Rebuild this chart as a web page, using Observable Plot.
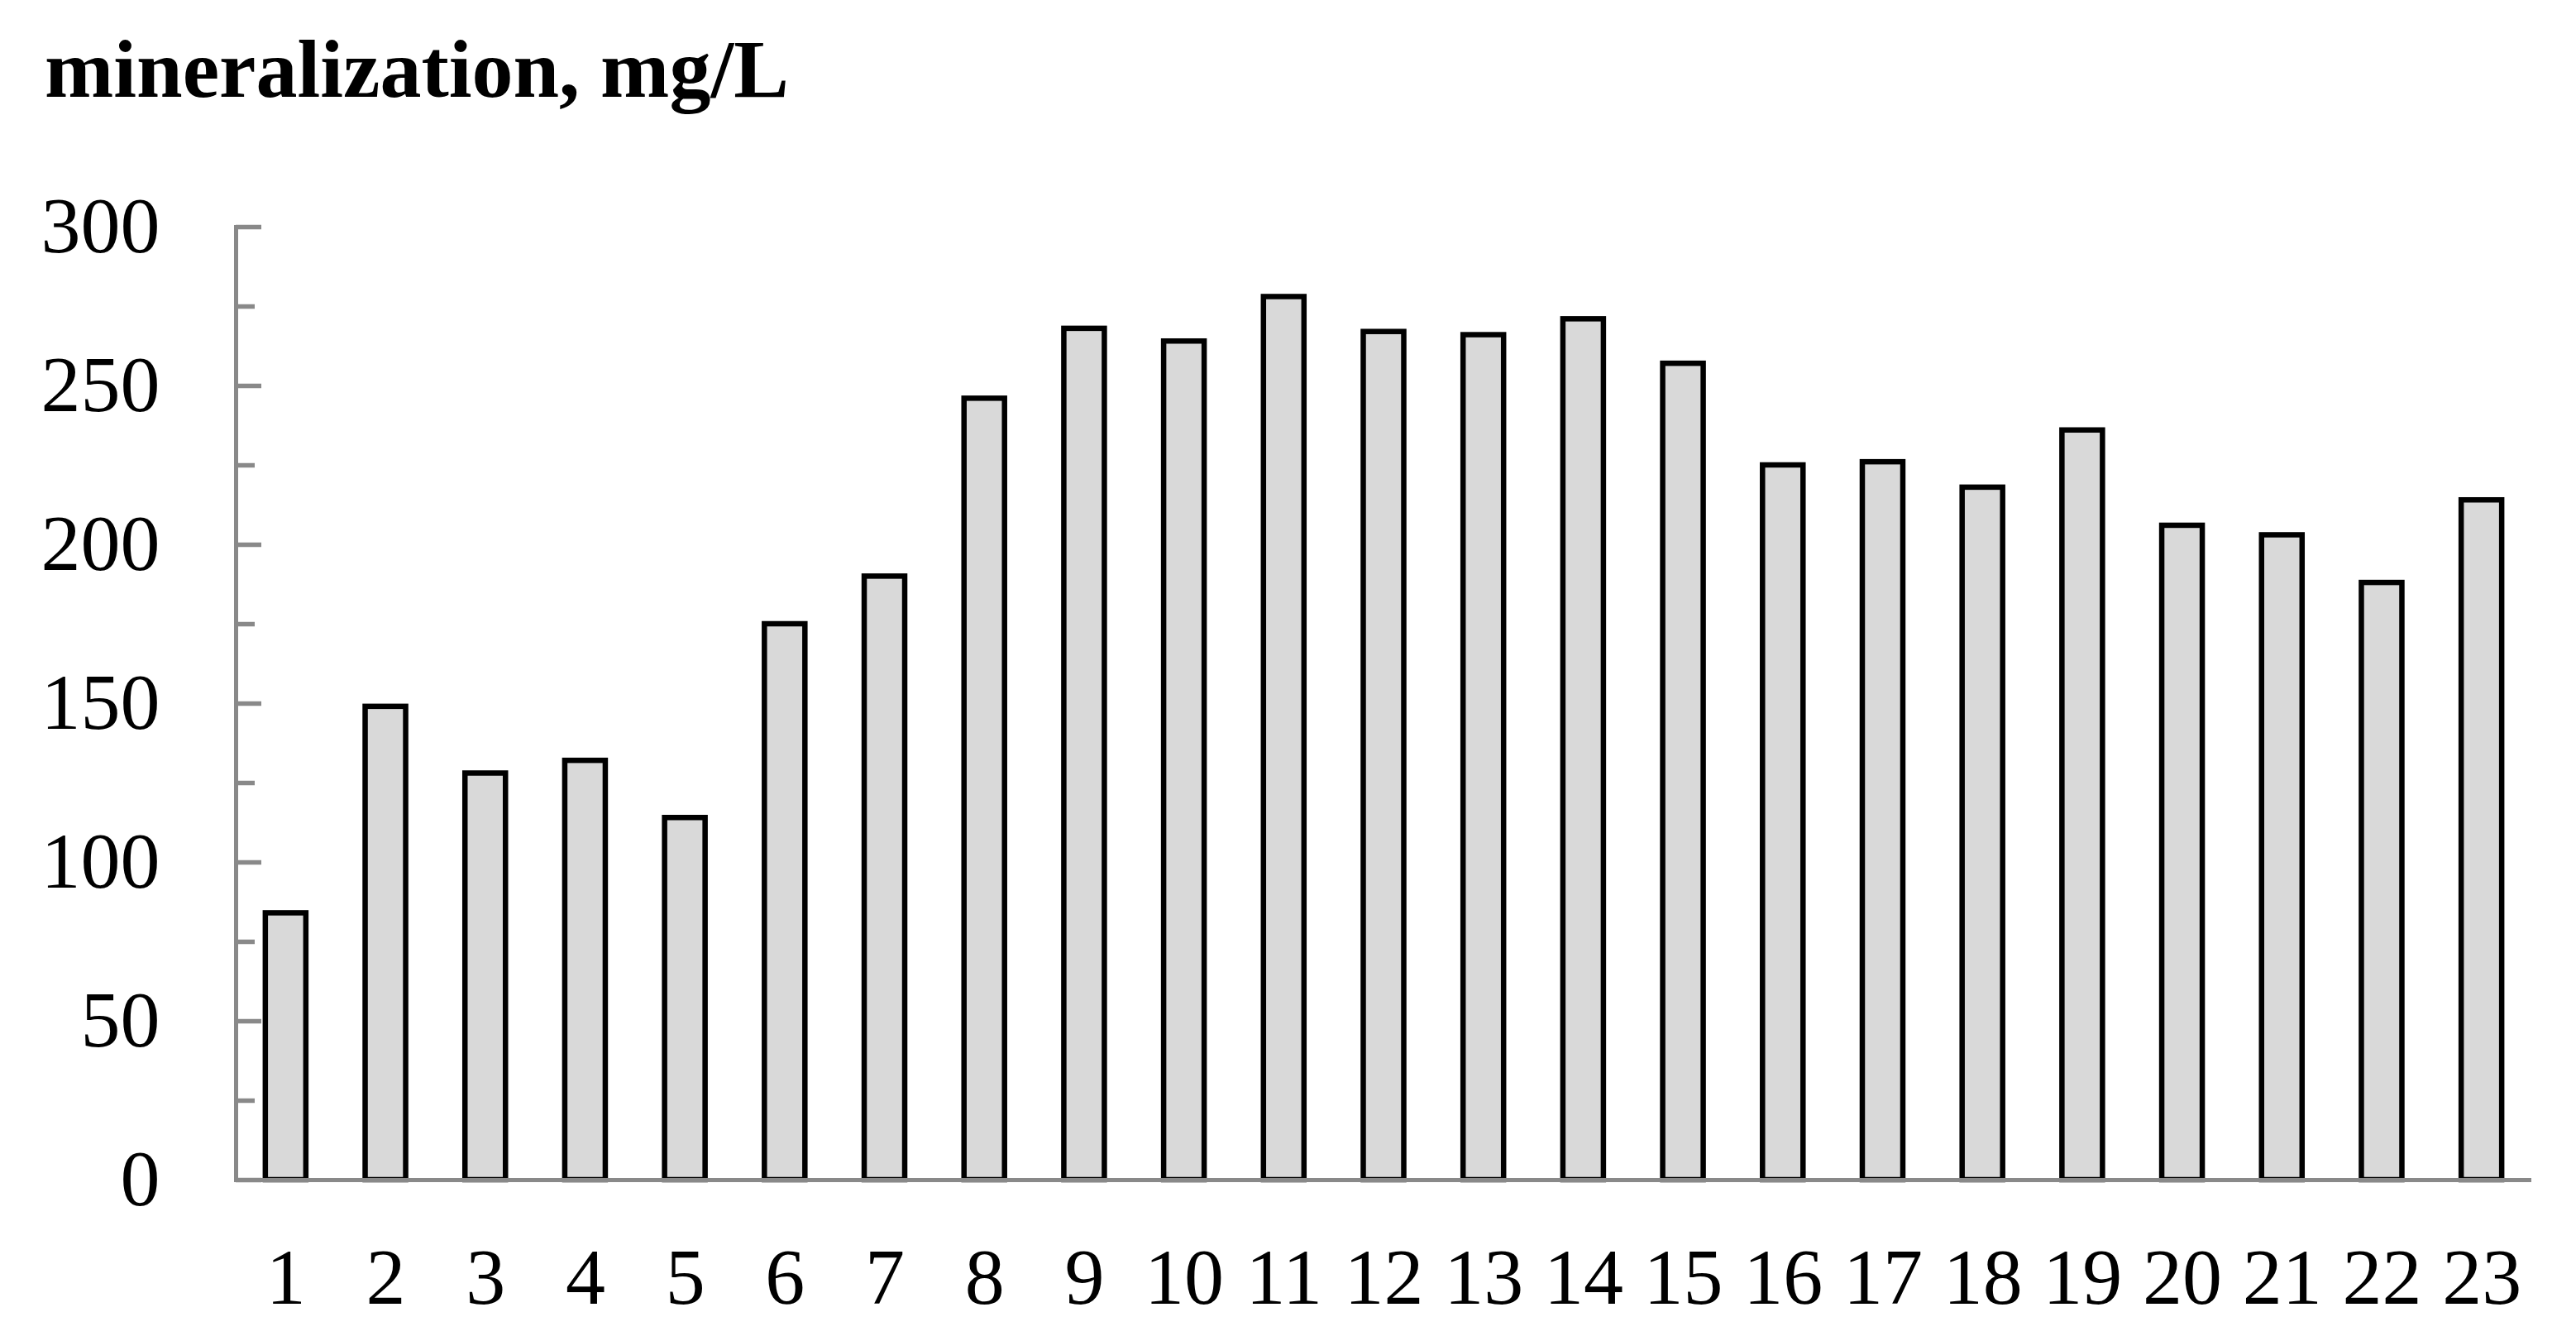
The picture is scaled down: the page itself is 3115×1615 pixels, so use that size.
<!DOCTYPE html>
<html>
<head>
<meta charset="utf-8">
<script src="https://cdn.jsdelivr.net/npm/d3@7"></script>
<script src="https://cdn.jsdelivr.net/npm/@observablehq/plot@0.6"></script>
<style>
  html, body { margin: 0; padding: 0; background: #fff; overflow: hidden; }
  #title {
    box-sizing: border-box;
    height: 160px;
    padding: 34px 0 0 54px;
    font: bold 100px/100px "Liberation Serif", "Times New Roman", serif;
    color: #000;
    white-space: nowrap;
  }
  #chart svg { display: block; }
</style>
</head>
<body>
<div id="title">mineralization, mg/L</div>
<div id="chart"></div>
<script>
const stations = ["1","2","3","4","5","6","7","8","9","10","11","12","13","14","15","16","17","18","19","20","21","22","23"];
const mineralization = [84,149,128,132,114,175,190,246,268,264,278,267,266,271,257,225,226,218,236,206,203,188,214];
const yMajorTicks = [0,50,100,150,200,250,300];
const yMinorTicks = [25,75,125,175,225,275];

const data = stations.map((s, i) => ({station: s, value: mineralization[i]}));

const W = 3115, H = 1455;
const mL = 285, mR = 54, mT = 114, mB = 189;
const frameW = W - mL - mR;
const axisGray = "#898989";

const chart = Plot.plot({
  width: W,
  height: H,
  marginLeft: mL,
  marginRight: mR,
  marginTop: mT,
  marginBottom: mB,
  style: {fontFamily: "'Liberation Serif', 'Times New Roman', serif", fontSize: "96px", color: "#000", background: "#fff"},
  x: {domain: stations, paddingInner: 0.594, paddingOuter: 0.297, round: false, label: null},
  y: {domain: [0, 300], label: null},
  marks: [
    Plot.barY(data, {x: "station", y: "value", fill: "#d9d9d9", stroke: "#000", strokeWidth: 6.5}),
    Plot.ruleY(yMajorTicks, {stroke: axisGray, strokeWidth: 5.5, insetRight: frameW - 31}),
    Plot.ruleY(yMinorTicks, {stroke: axisGray, strokeWidth: 5.5, insetRight: frameW - 23}),
    Plot.frame({anchor: "left", stroke: axisGray, strokeWidth: 5}),
    Plot.ruleY([0], {stroke: axisGray, strokeWidth: 5}),
    Plot.axisY({ticks: yMajorTicks, tickSize: 0, tickPadding: 92, label: null, tickFormat: d => String(d)}),
    Plot.axisX({tickSize: 0, tickPadding: 81, label: null})
  ]
});
document.getElementById("chart").appendChild(chart);
</script>
</body>
</html>
